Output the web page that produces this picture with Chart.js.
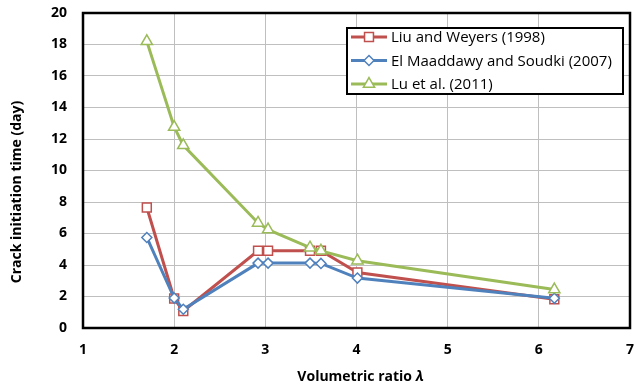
<!DOCTYPE html>
<html lang="en">
<head>
  <meta charset="UTF-8">
  <title>Crack initiation time vs volumetric ratio</title>
  <script src="https://cdn.jsdelivr.net/npm/chart.js"></script>
  <style>
    body {
      margin: 0;
      background: #ffffff;
    }

    #box {
      width: 638px;
      height: 389px;
    }
  </style>
</head>
<body>

  <div id="box">
    <canvas id="grafico"></canvas>
  </div>

  <script>
    // volumetric ratio (x) and crack initiation time in days (y)
    const liuX = [1.70, 2.00, 2.10, 2.92, 3.03, 3.49, 3.61, 4.01, 6.17];
    const liuY = [7.65, 1.87, 1.08, 4.90, 4.90, 4.90, 4.90, 3.52, 1.83];

    const elMaaddawyX = [1.70, 2.00, 2.10, 2.92, 3.03, 3.49, 3.61, 4.01, 6.17];
    const elMaaddawyY = [5.75, 1.90, 1.19, 4.12, 4.12, 4.12, 4.10, 3.17, 1.89];

    const luX = [1.70, 2.00, 2.10, 2.92, 3.03, 3.49, 3.61, 4.01, 6.17];
    const luY = [18.2, 12.76, 11.6, 6.67, 6.25, 5.10, 4.90, 4.27, 2.44];

    const seriesNames = ["Liu and Weyers (1998)", "El Maaddawy and Soudki (2007)", "Lu et al. (2011)"];
    const xTicks = [1, 2, 3, 4, 5, 6, 7];
    const yTicks = [0, 2, 4, 6, 8, 10, 12, 14, 16, 18, 20];

    const xTitle = "Volumetric ratio ";
    const xTitleSymbol = "λ";
    const yTitle = "Crack initiation time (day)";

    const RED = "#C0504D";
    const BLUE = "#4F81BD";
    const GREEN = "#9BBB59";
    const FONT = "'Open Sans', 'DejaVu Sans', sans-serif";

    function pares(xs, ys) {
      return xs.map((x, i) => ({ x: x, y: ys[i] }));
    }

    // same marker shapes as the line points, for the legend
    function desenhaMarcador(ctx, estilo, x, y, r) {
      ctx.beginPath();
      if (estilo === "rect") {
        const s = Math.SQRT1_2 * r;
        ctx.rect(x - s, y - s, 2 * s, 2 * s);
      } else if (estilo === "rectRot") {
        ctx.moveTo(x - r, y);
        ctx.lineTo(x, y - r);
        ctx.lineTo(x + r, y);
        ctx.lineTo(x, y + r);
        ctx.closePath();
      } else {
        for (let k = 0; k < 3; k++) {
          const a = k * 2 * Math.PI / 3;
          const px = x + Math.sin(a) * r;
          const py = y - Math.cos(a) * r;
          if (k === 0) ctx.moveTo(px, py); else ctx.lineTo(px, py);
        }
        ctx.closePath();
      }
      ctx.fill();
      ctx.stroke();
    }

    const moldura = {
      id: "moldura",
      afterDatasetsDraw(chart) {
        const ctx = chart.ctx;
        const a = chart.chartArea;
        ctx.save();

        // black frame around the plot area
        ctx.strokeStyle = "#000000";
        ctx.lineWidth = 2.5;
        ctx.strokeRect(a.left, a.top, a.right - a.left, a.bottom - a.top);

        // legend box
        const lx = 347, ly = 28, lw = 276, lh = 66;
        ctx.fillStyle = "#ffffff";
        ctx.fillRect(lx, ly, lw, lh);
        ctx.lineWidth = 2;
        ctx.strokeRect(lx, ly, lw, lh);

        const ordem = [2, 1, 0];
        ordem.forEach((idx, linha) => {
          const ds = chart.data.datasets[idx];
          const y = ly + 9 + linha * 23.5;
          ctx.strokeStyle = ds.borderColor;
          ctx.lineWidth = 3;
          ctx.beginPath();
          ctx.moveTo(351, y);
          ctx.lineTo(387, y);
          ctx.stroke();
          ctx.fillStyle = "#ffffff";
          ctx.lineWidth = 1.5;
          desenhaMarcador(ctx, ds.pointStyle, 369, y, ds.pointRadius);
          ctx.fillStyle = "#000000";
          ctx.font = "15px " + FONT;
          ctx.textAlign = "left";
          ctx.textBaseline = "middle";
          ctx.fillText(ds.label, 391, y + 1);
        });

        // axis titles
        ctx.fillStyle = "#000000";
        ctx.font = "bold 14px " + FONT;
        ctx.textBaseline = "middle";
        const w1 = ctx.measureText(xTitle).width;
        ctx.font = "italic bold 14px " + FONT;
        const w2 = ctx.measureText(xTitleSymbol).width;
        const x0 = (a.left + a.right) / 2 + 4 - (w1 + w2) / 2;
        ctx.textAlign = "left";
        ctx.font = "bold 14px " + FONT;
        ctx.fillText(xTitle, x0, 377);
        ctx.font = "italic bold 14px " + FONT;
        ctx.fillText(xTitleSymbol, x0 + w1, 377);

        ctx.translate(17, 192);
        ctx.rotate(-Math.PI / 2);
        ctx.textAlign = "center";
        ctx.font = "bold 14px " + FONT;
        ctx.fillText(yTitle, 0, 0);
        ctx.restore();
      }
    };

    const ctx = document.getElementById("grafico").getContext("2d");

    const grafico = new Chart(ctx, {
      type: "line",
      data: {
        datasets: [
          {
            label: seriesNames[2],
            data: pares(luX, luY),
            borderColor: GREEN,
            pointStyle: "triangle",
            pointRadius: 6.5,
            order: 0
          },
          {
            label: seriesNames[1],
            data: pares(elMaaddawyX, elMaaddawyY),
            borderColor: BLUE,
            pointStyle: "rectRot",
            pointRadius: 5,
            order: 1
          },
          {
            label: seriesNames[0],
            data: pares(liuX, liuY),
            borderColor: RED,
            pointStyle: "rect",
            pointRadius: 6.3,
            order: 2
          }
        ].map(ds => Object.assign(ds, {
          borderWidth: 3,
          backgroundColor: "#ffffff",
          pointBackgroundColor: "#ffffff",
          pointBorderColor: ds.borderColor,
          pointBorderWidth: 1.5,
          pointHoverRadius: ds.pointRadius,
          tension: 0
        }))
      },
      options: {
        responsive: true,
        maintainAspectRatio: false,
        animation: false,
        layout: {
          padding: { top: 13, right: 4, left: 0, bottom: 0 }
        },
        plugins: {
          legend: { display: false },
          tooltip: { enabled: false }
        },
        scales: {
          x: {
            type: "linear",
            min: xTicks[0],
            max: xTicks[xTicks.length - 1],
            afterBuildTicks: s => { s.ticks = xTicks.map(v => ({ value: v })); },
            afterFit: s => { s.height = 61; s.paddingLeft = 0; s.paddingRight = 0; },
            border: { display: false },
            grid: { color: "#BFBFBF", lineWidth: 1, drawTicks: false },
            ticks: {
              padding: 14,
              color: "#000000",
              font: { family: FONT, size: 14, weight: "bold" }
            }
          },
          y: {
            min: yTicks[0],
            max: yTicks[yTicks.length - 1],
            afterBuildTicks: s => { s.ticks = yTicks.map(v => ({ value: v })); },
            afterFit: s => { s.width = 83; s.paddingTop = 0; s.paddingBottom = 0; },
            border: { display: false },
            grid: { color: "#BFBFBF", lineWidth: 1, drawTicks: false },
            ticks: {
              padding: 16,
              color: "#000000",
              font: { family: FONT, size: 14, weight: "bold" }
            }
          }
        }
      },
      plugins: [moldura]
    });
  </script>

</body>
</html>
